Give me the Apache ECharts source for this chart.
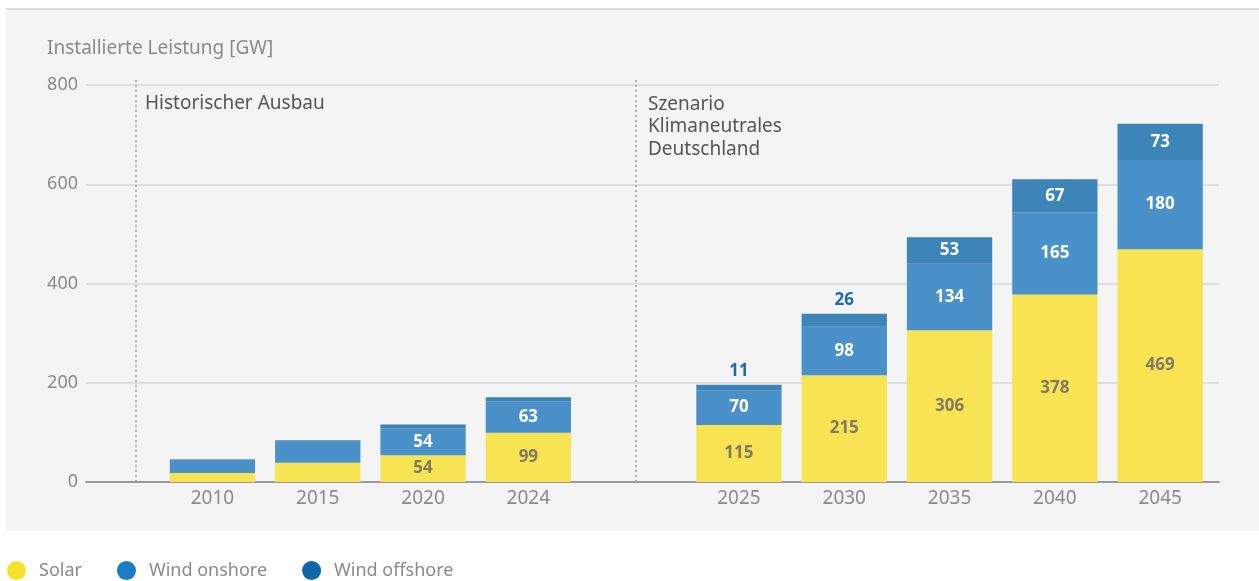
<!DOCTYPE html>
<html>
<head>
<meta charset="utf-8">
<script src="https://cdn.jsdelivr.net/npm/echarts@6/dist/echarts.min.js"></script>
<style>
html,body{margin:0;padding:0;background:#fff;}
#c{width:1259px;height:581px;}
</style>
</head>
<body>
<div id="c"></div>
<script>
const categories = ['2010', '2015', '2020', '2024', '', '2025', '2030', '2035', '2040', '2045'];
const solar = [18, 39, 54, 99, null, 115, 215, 306, 378, 469];
const windOnshore = [27, 42, 54, 63, null, 70, 98, 134, 165, 180];
const windOffshore = [1, 3, 8, 9, null, 11, 26, 53, 67, 73];
const yMin = 0, yMax = 800, yStep = 200;
const axisTitle = 'Installierte Leistung [GW]';
const histLabel = 'Historischer Ausbau';
const scenLabel = 'Szenario\nKlimaneutrales\nDeutschland';
const seriesNames = ['Solar', 'Wind onshore', 'Wind offshore'];

const FONT = 'Noto Sans';
const legendColors = ['#f9e02c', '#1a7dc5', '#0f66a8'];
const barColors = ['#f8e452', '#4a90c9', '#3d84b8'];

function items(values, minShow, innerColor, topBelow) {
  return values.map(v => {
    if (v == null) return null;
    const show = v >= minShow;
    const top = topBelow != null && v < topBelow;
    return {
      value: v,
      label: {
        show: show,
        position: top ? 'top' : 'inside',
        color: top ? '#1f6aa8' : innerColor,
        distance: 5
      }
    };
  });
}

const chart = echarts.init(document.getElementById('c'), null, {renderer: 'canvas'});
const labelBase = {fontFamily: FONT, fontSize: 17, fontWeight: 'bold'};

chart.setOption({
  animation: false,
  textStyle: {fontFamily: FONT},
  graphic: [
    {type: 'rect', z: -100, shape: {x: 6, y: 8, width: 1253, height: 523}, style: {fill: '#f4f4f4'}},
    {type: 'rect', z: -99, shape: {x: 6, y: 8, width: 1253, height: 2}, style: {fill: '#dcdcdc'}},
    {type: 'line', z: 1, shape: {x1: 136, y1: 80, x2: 136, y2: 482}, style: {stroke: '#9a9a9a', lineWidth: 1.5, lineDash: [2, 3]}},
    {type: 'line', z: 1, shape: {x1: 636, y1: 80, x2: 636, y2: 482}, style: {stroke: '#9a9a9a', lineWidth: 1.5, lineDash: [2, 3]}},
    {type: 'text', z: 5, left: 145, top: 94, style: {text: histLabel, font: '19px "' + FONT + '"', fill: '#555555'}},
    {type: 'text', z: 5, left: 648, top: 93, style: {text: scenLabel, font: '19px "' + FONT + '"', fill: '#555555', lineHeight: 22.5}},
    {type: 'text', z: 5, left: 47, top: 39, style: {text: axisTitle, font: '19px "' + FONT + '"', fill: '#8a8a8a'}}
  ],
  legend: {
    left: 7, top: 561, padding: 0,
    icon: 'circle', itemWidth: 19, itemHeight: 19, itemGap: 35,
    textStyle: {fontFamily: FONT, fontSize: 18, color: '#8a8a8a', padding: [0, 0, 0, 8]},
    data: seriesNames.map((n, i) => ({name: n, itemStyle: {color: legendColors[i]}}))
  },
  grid: [
    {left: 86, right: 40, top: 85, bottom: 99},
    {left: 159.8, right: 46.2, top: 85, bottom: 99}
  ],
  xAxis: [
    {gridIndex: 0, type: 'value', min: 0, max: 1, axisLabel: {show: false}, axisTick: {show: false}, splitLine: {show: false},
     axisLine: {show: true, onZero: false, lineStyle: {color: '#9a9a9a', width: 2}}},
    {gridIndex: 1, type: 'category', data: categories, axisLine: {show: false}, axisTick: {show: false},
     axisLabel: {color: '#8a8a8a', fontSize: 19, fontFamily: FONT, margin: 7}}
  ],
  yAxis: [
    {gridIndex: 0, type: 'value', min: yMin, max: yMax, interval: yStep,
     axisLine: {show: false}, axisTick: {show: false},
     axisLabel: {color: '#8a8a8a', fontSize: 18, fontFamily: FONT, margin: 8},
     splitLine: {lineStyle: {color: '#dedede', width: 2}}},
    {gridIndex: 1, type: 'value', min: yMin, max: yMax, interval: yStep, show: false}
  ],
  series: [
    {name: seriesNames[0], type: 'bar', stack: 'cap', xAxisIndex: 1, yAxisIndex: 1, barCategoryGap: '19%',
     itemStyle: {color: barColors[0]}, label: Object.assign({}, labelBase),
     data: items(solar, 50, '#807b66')},
    {name: seriesNames[1], type: 'bar', stack: 'cap', xAxisIndex: 1, yAxisIndex: 1, barCategoryGap: '19%',
     itemStyle: {color: barColors[1]}, label: Object.assign({}, labelBase),
     data: items(windOnshore, 50, '#ffffff')},
    {name: seriesNames[2], type: 'bar', stack: 'cap', xAxisIndex: 1, yAxisIndex: 1, barCategoryGap: '19%',
     itemStyle: {color: barColors[2]}, label: Object.assign({}, labelBase),
     data: items(windOffshore, 10, '#ffffff', 40)}
  ]
});
</script>
</body>
</html>
